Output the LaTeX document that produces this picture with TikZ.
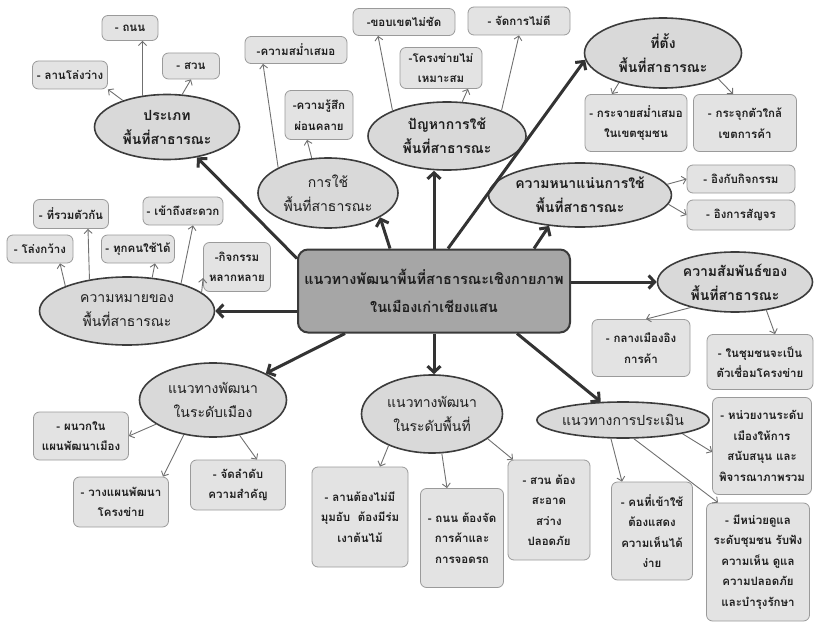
\documentclass[tikz,border=0pt]{standalone}
\usepackage{fontspec}
\newfontfamily\thaifont[Script=Thai]{Loma}
\usetikzlibrary{shapes.geometric,arrows.meta}
\definecolor{ellfill}{HTML}{D9D9D9}
\definecolor{elldraw}{HTML}{3C3C3C}
\definecolor{boxfill}{HTML}{E3E3E3}
\definecolor{boxdraw}{HTML}{9A9A9A}
\definecolor{mainfill}{HTML}{A6A6A6}
\definecolor{maindraw}{HTML}{3A3A3A}
\definecolor{bigarr}{HTML}{333333}
\definecolor{thinarr}{HTML}{707070}
\definecolor{txt}{HTML}{1E1E1E}
\begin{document}
\begin{tikzpicture}[x=1pt,y=-1pt,
  sz/.style 2 args={minimum width=#1pt, minimum height=#2pt},
  ell/.style={ellipse, draw=elldraw, line width=1.6pt, fill=ellfill, inner sep=0pt, align=center, text=txt,
    font=\thaifont\fontsize{14}{24}\selectfont},
  bell/.style={ell, font=\thaifont\bfseries\fontsize{14}{24}\selectfont},
  leaf/.style={rectangle, rounded corners=6pt, draw=boxdraw, line width=0.8pt, fill=boxfill, inner sep=0pt, align=center, text=txt,
    font=\thaifont\bfseries\fontsize{11.5}{20.5}\selectfont},
  mainbox/.style={rectangle, rounded corners=10pt, draw=maindraw, line width=2pt, fill=mainfill, inner sep=0pt, align=center, text=txt,
    font=\thaifont\bfseries\fontsize{14.5}{28}\selectfont},
  big/.style={draw=bigarr, line width=3pt, -{Straight Barb[length=6pt,width=13pt,line width=3pt]}},
  thin/.style={draw=thinarr, line width=0.9pt, -{Straight Barb[length=4pt,width=8pt]}}
]
\useasboundingbox (0,0) rectangle (814,623);

% central box
\node[mainbox, sz={272}{83}] (c) at (434,291) {แนวทางพัฒนาพื้นที่สาธารณะเชิงกายภาพ\\ในเมืองเก่าเชียงแสน};

% ellipses
\node[bell, sz={145}{65}] (type) at (167,127) {ประเภท\\พื้นที่สาธารณะ};
\node[ell,  sz={140}{70}] (use)  at (328,193) {การใช้\\พื้นที่สาธารณะ};
\node[bell, sz={158}{68}] (prob) at (447,136) {ปัญหาการใช้\\พื้นที่สาธารณะ};
\node[bell, sz={157}{70}] (loc)  at (663,53)  {ที่ตั้ง\\พื้นที่สาธารณะ};
\node[bell, sz={155}{64}] (dens) at (580,195) {ความหนาแน่นการใช้\\พื้นที่สาธารณะ};
\node[bell, sz={155}{60}] (rel)  at (735,282) {ความสัมพันธ์ของ\\พื้นที่สาธารณะ};
\node[ell,  sz={175}{68}] (mean) at (127,311) {ความหมายของ\\พื้นที่สาธารณะ};
\node[ell,  sz={147}{74}] (city) at (213,400) {แนวทางพัฒนา\\ในระดับเมือง};
\node[ell,  sz={141}{78}] (site) at (432,414) {แนวทางพัฒนา\\ในระดับพื้นที่};
\node[ell,  sz={137}{36}] (eval) at (623,420) {แนวทางการประเมิน};

% leaves
\node[leaf, sz={75}{28}]  (t1) at (70,75)   {- ลานโล่งว่าง};
\node[leaf, sz={56}{25}]  (t2) at (130,28)  {- ถนน};
\node[leaf, sz={57}{26}]  (t3) at (191,66)  {- สวน};
\node[leaf, sz={102}{27}] (u1) at (296,50)  {-ความสม่ำเสมอ};
\node[leaf, sz={68}{49}]  (u2) at (319,115) {-ความรู้สึก\\ผ่อนคลาย};
\node[leaf, sz={102}{27}] (p1) at (404,22)  {-ขอบเขตไม่ชัด};
\node[leaf, sz={82}{41}]  (p2) at (441,68)  {-โครงข่ายไม่\\เหมาะสม};
\node[leaf, sz={102}{28}] (p3) at (519,21)  {- จัดการไม่ดี};
\node[leaf, sz={102}{57}] (l1) at (636,123) {- กระจายสม่ำเสมอ\\ในเขตชุมชน};
\node[leaf, sz={103}{57}] (l2) at (745,123) {- กระจุกตัวใกล้\\เขตการค้า};
\node[leaf, sz={108}{28}] (d1) at (741,179) {- อิงกับกิจกรรม};
\node[leaf, sz={108}{30}] (d2) at (741,215) {- อิงการสัญจร};
\node[leaf, sz={98}{57}]  (r1) at (641,348) {- กลางเมืองอิง\\การค้า};
\node[leaf, sz={106}{55}] (r2) at (760,362) {- ในชุมชนจะเป็น\\ตัวเชื่อมโครงข่าย};
\node[leaf, sz={66}{28}]  (m1) at (40,249)  {- โล่งกว้าง};
\node[leaf, sz={75}{29}]  (m2) at (71,214)  {- ที่รวมตัวกัน};
\node[leaf, sz={73}{28}]  (m3) at (138,249) {- ทุกคนใช้ได้};
\node[leaf, sz={80}{28}]  (m4) at (183,211) {- เข้าถึงสะดวก};
\node[leaf, sz={67}{49}]  (m5) at (237,267) {-กิจกรรม\\หลากหลาย};
\node[leaf, sz={95}{48}]  (y1) at (81,436)  {- ผนวกใน\\แผนพัฒนาเมือง};
\node[leaf, sz={95}{50}]  (y2) at (121,502) {- วางแผนพัฒนา\\โครงข่าย};
\node[leaf, sz={95}{50}]  (y3) at (238,485) {- จัดลำดับ\\ความสำคัญ};
\node[leaf, sz={96}{100}] (s1) at (360,517) {- ลานต้องไม่มี\\มุมอับ\ \ ต้องมีร่ม\\เงาต้นไม้};
\node[leaf, sz={83}{99}]  (s2) at (462,538) {- ถนน ต้องจัด\\การค้าและ\\การจอดรถ};
\node[leaf, sz={82}{100}] (s3) at (549,510) {- สวน ต้อง\\สะอาด\\สว่าง\\ปลอดภัย};
\node[leaf, sz={81}{98}]  (e1) at (652,531) {- คนที่เข้าใช้\\ต้องแสดง\\ความเห็นได้\\ง่าย};
\node[leaf, sz={99}{97}]  (e2) at (762,446) {- หน่วยงานระดับ\\เมืองให้การ\\สนับสนุน และ\\พิจารณาภาพรวม};
\node[leaf, sz={103}{118}] (e3) at (758,562) {- มีหน่วยดูแล\\ระดับชุมชน รับฟัง\\ความเห็น ดูแล\\ความปลอดภัย\\และบำรุงรักษา};

% thick arrows from the centre
\draw[big] ([yshift=-10pt]c.north west) -- (type);
\draw[big] ([xshift=-44pt]c.north) -- (use.-25);
\draw[big] (c.north) -- (c.north |- prob.south);
\draw[big] ([xshift=14pt]c.north) -- (loc.185);
\draw[big] ([xshift=100pt]c.north) -- (dens.225);
\draw[big] ([yshift=9pt]c.east) -- (rel.west);
\draw[big] ([yshift=-20pt]c.west) -- (mean.east);
\draw[big] ([xshift=-89pt]c.south) -- (city);
\draw[big] (c.south) -- (c.south |- site.north);
\draw[big] ([xshift=83pt]c.south) -- (eval);

% thin arrows
\draw[thin] (type.149) -- (t1.south east);
\draw[thin] (type.128) -- (type.128 |- t2.south);
\draw[thin] (type.65) -- (t3.south);
\draw[thin] (use.153) -- ([xshift=-33pt]u1.south);
\draw[thin] (use.115) -- ([xshift=-12pt]u2.south);
\draw[thin] (prob.155) -- ([xshift=-26pt]p1.south);
\draw[thin] (prob.66) -- ([xshift=27pt]p2.south);
\draw[thin] (prob.25) -- (p3.south);
\draw[thin] (loc.214) -- ([xshift=-24pt]l1.north);
\draw[thin] (loc.335) -- ([xshift=-12pt]l2.north);
\draw[thin] (dens.7) -- (d1.west);
\draw[thin] (dens.-6) -- (d2.west);
\draw[thin] (rel.210) -- ([xshift=5pt]r1.north);
\draw[thin] (rel.-42) -- ([xshift=15pt]r2.north);
\draw[thin] (mean.158) -- ([xshift=20pt]m1.south);
\draw[thin] (mean.140) -- ([xshift=17pt]m2.south);
\draw[thin] (mean.53) -- ([xshift=17pt]m3.south);
\draw[thin] (mean.27) -- ([xshift=10pt]m4.south);
\draw[thin] (mean.14) -- ([yshift=-11pt]m5.west);
\draw[thin] (city.203) -- (y1.east);
\draw[thin] (city.230) -- ([xshift=42pt]y2.north);
\draw[thin] (city.307) -- ([xshift=19pt]y3.north);
\draw[thin] (site.216) -- ([xshift=20pt]s1.north);
\draw[thin] (site.284) -- ([xshift=-15pt]s2.north);
\draw[thin] (site.336) -- ([xshift=-36pt]s3.north);
\draw[thin] (eval.237) -- ([xshift=-30pt]e1.north);
\draw[thin] (eval.347) -- ([yshift=-6pt]e2.west);
\draw[thin] (eval.300) -- ([xshift=-40pt]e3.north);
\end{tikzpicture}
\end{document}
